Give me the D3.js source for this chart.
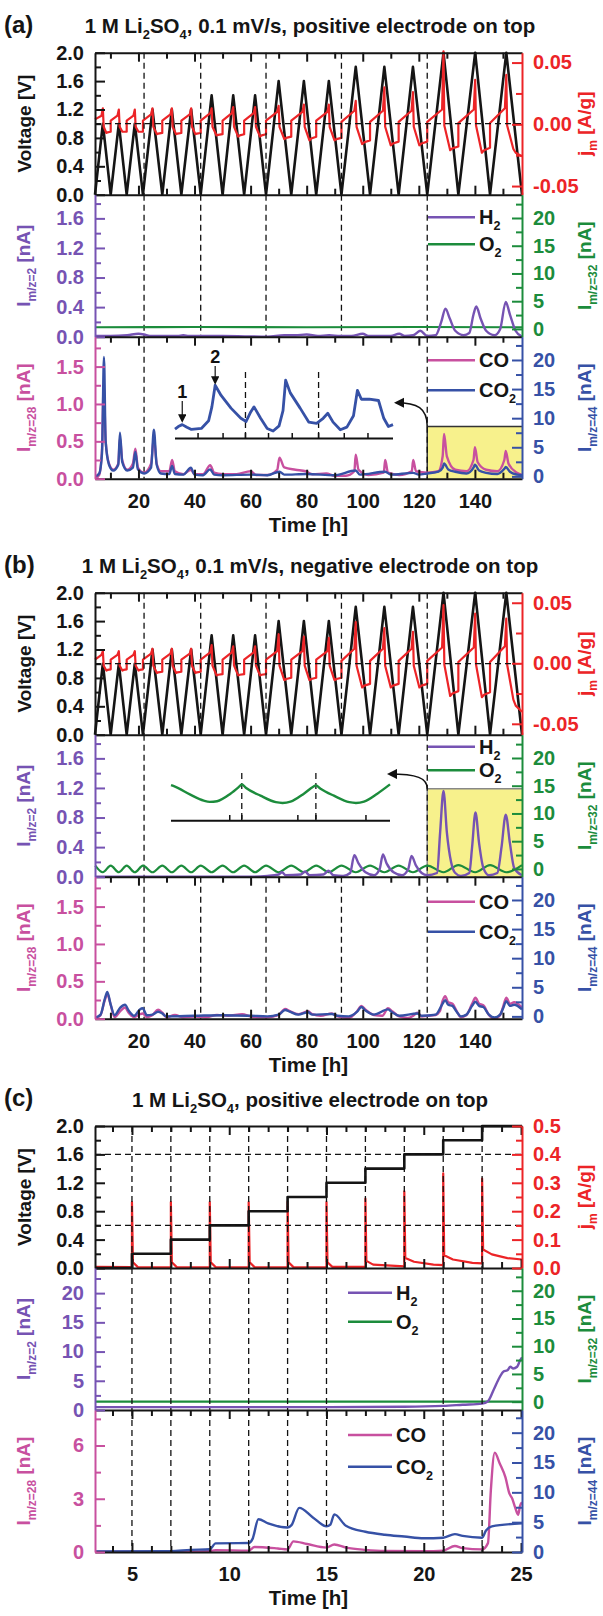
<!DOCTYPE html>
<html>
<head>
<meta charset="utf-8">
<script src="https://cdn.jsdelivr.net/npm/d3@7"></script>
<style>
  body { margin: 0; background: #fff; }
  svg { display: block; }
</style>
</head>
<body>
<svg id="chart" width="603" height="1616"></svg>
<script>
// ---------------- data ----------------
var timeMajorAB = [20, 40, 60, 80, 100, 120, 140];
var timeMinorAB = [10, 30, 50, 70, 90, 110, 130, 150];
var timeMajorC = [5, 10, 15, 20, 25];
var timeMinorC = [4, 6, 7, 8, 9, 11, 12, 13, 14, 16, 17, 18, 19, 21, 22, 23, 24];

var voltTicks = [0, 0.4, 0.8, 1.2, 1.6, 2.0];
var voltMinor = [0.2, 0.6, 1.0, 1.4, 1.8];
var jTicksAB = [-0.05, 0, 0.05];
var jMinorAB = [-0.025, 0.025];
var jTicksC = [0, 0.1, 0.2, 0.3, 0.4, 0.5];
var jMinorC = [0.05, 0.15, 0.25, 0.35, 0.45];
var h2TicksAB = [0, 0.4, 0.8, 1.2, 1.6];
var h2MinorAB = [0.2, 0.6, 1.0, 1.4, 1.8];
var nATicks = [0, 5, 10, 15, 20];
var nAMinor = [2.5, 7.5, 12.5, 17.5, 22.5];
var coTicksAB = [0, 0.5, 1.0, 1.5];
var coMinorAB = [0.25, 0.75, 1.25, 1.75];
var coTicksC = [0, 3, 6];
var coMinorC = [1.5, 4.5, 7.5];

var stepTimesAB = [22, 42.2, 65.5, 92.4, 123];
var stepTimesC = [5, 7, 9, 11, 13, 15, 17, 19, 21, 23];
var stepTimesCgas = [5, 7, 9, 11, 13, 15, 21, 23];

// CV: vertices of the triangular voltage (V=0 / turning points), 3 cycles per upper limit
var cvT = [4.5, 7.3, 10.1, 13.0, 15.8, 18.7, 21.6, 25.0, 28.5, 31.9, 35.3, 38.8, 42.2,
  46.1, 50.0, 53.8, 57.7, 61.6, 65.5, 70.0, 74.5, 79.0, 83.4, 87.9, 92.4,
  97.5, 102.6, 107.7, 112.8, 117.9, 123.0, 128.8, 134.1, 140.1, 145.4, 151.2, 156.8];
var cvV = [0, 1.0, 0, 1.0, 0, 1.0, 0, 1.2, 0, 1.2, 0, 1.2, 0,
  1.4, 0, 1.4, 0, 1.4, 0, 1.6, 0, 1.6, 0, 1.6, 0,
  1.8, 0, 1.8, 0, 1.8, 0, 2.0, 0, 2.0, 0, 2.0, 0];

// specific current per cycle (A/g): after the jump, before the spike, spike, after the drop, dip, end
var jUpA   = [0.004, 0.003, 0.003, 0.003, 0.003, 0.003, 0.003, 0.003, 0.003, 0.003, 0.003, 0.003, 0.002, 0.002, 0.002, 0.002, 0.001, 0.001];
var jPreA  = [0.007, 0.007, 0.007, 0.008, 0.008, 0.008, 0.009, 0.009, 0.009, 0.010, 0.010, 0.010, 0.011, 0.011, 0.011, 0.012, 0.012, 0.013];
var jPeakA = [0.013, 0.012, 0.012, 0.013, 0.013, 0.013, 0.013, 0.014, 0.014, 0.015, 0.016, 0.016, 0.019, 0.030, 0.026, 0.059, 0.036, 0.040];
var jPostA = [-0.002, -0.002, -0.002, -0.002, -0.002, -0.002, -0.002, -0.002, -0.002, -0.002, -0.002, -0.002, -0.002, -0.002, -0.002, -0.001, -0.001, -0.001];
var jDipA  = [-0.007, -0.006, -0.006, -0.008, -0.008, -0.008, -0.009, -0.010, -0.010, -0.012, -0.013, -0.013, -0.016, -0.017, -0.017, -0.021, -0.023, -0.020];
var jEndA  = [-0.006, -0.006, -0.006, -0.007, -0.007, -0.007, -0.008, -0.008, -0.008, -0.010, -0.010, -0.011, -0.013, -0.014, -0.014, -0.018, -0.019, -0.026];

var jUpB   = [0.003, 0.003, 0.003, 0.003, 0.003, 0.003, 0.003, 0.003, 0.003, 0.003, 0.003, 0.003, 0.002, 0.002, 0.002, 0.002, 0.001, 0.001];
var jPreB  = [0.007, 0.007, 0.007, 0.008, 0.008, 0.008, 0.009, 0.009, 0.009, 0.010, 0.010, 0.010, 0.012, 0.012, 0.012, 0.013, 0.013, 0.014];
var jPeakB = [0.010, 0.010, 0.010, 0.012, 0.012, 0.012, 0.015, 0.014, 0.014, 0.024, 0.022, 0.021, 0.034, 0.029, 0.026, 0.048, 0.041, 0.037];
var jPostB = [-0.002, -0.002, -0.002, -0.002, -0.002, -0.002, -0.002, -0.002, -0.002, -0.002, -0.002, -0.002, -0.002, -0.002, -0.002, -0.001, -0.001, -0.001];
var jDipB  = [-0.006, -0.006, -0.006, -0.008, -0.008, -0.008, -0.010, -0.010, -0.010, -0.014, -0.014, -0.014, -0.020, -0.020, -0.020, -0.027, -0.028, -0.030];
var jEndB  = [-0.005, -0.005, -0.005, -0.007, -0.007, -0.007, -0.009, -0.009, -0.009, -0.012, -0.012, -0.012, -0.017, -0.017, -0.017, -0.023, -0.024, -0.040];

// (a) gases, [time h, current]
var h2A = [[4.6, 0.01], [10, 0.01], [16, 0.02], [20, 0.04], [22, 0.03], [24, 0.01], [34, 0.01], [36, 0.02], [38, 0.01], [50, 0.01], [66, 0.0], [72, 0.02], [76, 0.02], [80, 0.03], [84, 0.01], [88, 0.02], [92, 0.01], [96, 0.01], [100, 0.04], [102, 0.01], [110, 0.01], [113, 0.04], [115, 0.01], [118, 0.02], [120.5, 0.08], [123, 0.01], [126, 0.02], [128, 0.2], [129.5, 0.38], [131, 0.25], [133, 0.08], [136, 0.02], [138, 0.05], [139.5, 0.3], [140.5, 0.41], [142, 0.25], [144, 0.08], [147, 0.02], [149, 0.1], [151, 0.47], [152.5, 0.3], [154.5, 0.08], [156.8, 0.0]];
var o2A = [[4.6, 0.3], [40, 0.35], [80, 0.3], [120, 0.35], [156.8, 0.3]];
var coA = [[4.6, 0.0], [6, 0.05], [7, 0.4], [7.6, 1.25], [8.3, 0.5], [9.5, 0.2], [11, 0.12], [12.8, 0.2], [13.4, 0.55], [14.2, 0.25], [16, 0.12], [18, 0.2], [18.9, 0.4], [19.8, 0.15], [22, 0.08], [24.5, 0.2], [25.5, 0.55], [26.5, 0.2], [28, 0.1], [31, 0.1], [32, 0.25], [33, 0.1], [36, 0.06], [38.7, 0.12], [40, 0.06], [43, 0.06], [45.6, 0.18], [47, 0.08], [50, 0.06], [55, 0.06], [60, 0.1], [62, 0.05], [66, 0.05], [69.5, 0.12], [70.3, 0.28], [72, 0.15], [76, 0.12], [79.7, 0.1], [82, 0.06], [87, 0.07], [90, 0.04], [94, 0.04], [97, 0.1], [97.5, 0.32], [98.5, 0.12], [102, 0.05], [107.5, 0.08], [108, 0.25], [109, 0.08], [113, 0.05], [117.5, 0.1], [118, 0.25], [119, 0.1], [123, 0.08], [127, 0.1], [128.5, 0.3], [129, 0.6], [130, 0.3], [133, 0.12], [137, 0.1], [139.5, 0.25], [140, 0.42], [141, 0.22], [144, 0.12], [148, 0.1], [150.5, 0.25], [151, 0.37], [152, 0.2], [155, 0.08], [156.8, 0.05]];
var co2A = [[4.6, 0], [6, 0.5], [7, 4], [7.7, 20.5], [8.3, 6], [9.5, 2], [11, 1], [12.8, 2], [13.4, 7.5], [14.2, 2.5], [16, 1], [18, 1.5], [18.9, 4.2], [19.8, 1.2], [22, 0.5], [24.5, 1.5], [25.5, 8], [26.5, 2], [28, 0.5], [31, 0.4], [32, 1.8], [33, 0.4], [36, 0.3], [38.7, 1.5], [40, 0.3], [43, 0.2], [45.6, 1.2], [47, 0.3], [50, 0.2], [60, 0.3], [66, 0.2], [70.3, 0.8], [72, 0.3], [80, 0.4], [90, 0.2], [97.5, 1.0], [99, 0.3], [108, 0.8], [110, 0.3], [118, 0.6], [120, 0.3], [123, 0.5], [127, 0.8], [128.5, 1.5], [129, 2.2], [130.5, 1.2], [133, 0.8], [137, 0.5], [139.5, 1.5], [140, 2.0], [141.5, 1.0], [144, 0.6], [148, 0.4], [150.5, 1.3], [151, 1.6], [152.5, 0.8], [155, 0.3], [156.8, 0.2]];
// (a) inset: CO2 of the last three cycles, magnified (arbitrary units)
var insetA = [[123.5, 0.75], [124, 0.95], [124.6, 1.1], [125.3, 0.9], [126, 0.72], [127.5, 0.8], [128.6, 1.4], [129.1, 2.5], [129.6, 4.2], [130.5, 3.4], [132, 2.4], [133.5, 1.6], [134.3, 1.35], [135, 2.1], [135.5, 2.5], [136.5, 1.6], [137.5, 0.8], [138.4, 0.6], [139.3, 1.0], [139.9, 2.2], [140.3, 4.6], [141, 3.6], [142.5, 2.4], [143.8, 1.3], [145, 1.2], [146, 1.6], [146.7, 2.0], [147.5, 1.3], [148.6, 0.7], [149.6, 0.9], [150.6, 1.8], [151.2, 3.8], [151.8, 3.1], [153, 3.1], [154.4, 3.0], [155.2, 1.6], [155.9, 0.95], [156.6, 1.1]];
var insetTicksA = [127, 130.8, 134.2, 137.7, 141.3, 145.3, 149.2, 152.8];
var insetDashA = [134.2, 145.3];

// (b) gases
var h2B = [[4.6, 0.0], [60, 0.0], [66, 0.01], [70, 0.03], [71.2, 0.06], [72.5, 0.02], [78, 0.03], [79.4, 0.07], [81, 0.02], [86, 0.03], [87.8, 0.08], [89.5, 0.02], [93, 0.01], [95.5, 0.05], [97, 0.29], [98.5, 0.18], [101, 0.06], [104, 0.02], [106, 0.1], [107.2, 0.3], [108.5, 0.18], [111, 0.06], [114, 0.02], [116.2, 0.1], [117.4, 0.28], [119, 0.15], [121, 0.05], [123, 0.02], [126.5, 0.05], [127.6, 0.6], [128.8, 1.16], [130, 0.6], [131.5, 0.2], [133, 0.05], [135, 0.01], [138, 0.05], [139, 0.4], [140.2, 0.87], [141.5, 0.45], [143, 0.12], [145, 0.02], [148, 0.05], [149.5, 0.4], [151, 0.84], [152.5, 0.45], [154, 0.12], [156.8, 0.02]];
var o2B = [[4.6, 0.6], [7.3, -0.6], [10.1, 0.6], [13.0, -0.6], [15.8, 0.6], [18.7, -0.6], [21.6, 0.6], [25.0, -0.6], [28.5, 0.6], [31.9, -0.6], [35.3, 0.6], [38.8, -0.6], [42.2, 0.6], [46.1, -0.6], [50, 0.6], [53.8, -0.6], [57.7, 0.6], [61.6, -0.6], [65.5, 0.6], [70, -0.6], [74.5, 0.6], [79, -0.6], [83.4, 0.6], [87.9, -0.6], [92.4, 0.6], [97.5, -0.6], [102.6, 0.6], [107.7, -0.6], [112.8, 0.6], [117.9, -0.6], [123, 0.6], [128.8, -0.6], [134.1, 0.7], [140.1, -0.6], [145.4, 0.7], [151.2, -0.6], [156.8, 0.7]];
var coB = [[4.6, 0.0], [6.5, 0.05], [8, 0.25], [8.9, 0.33], [10, 0.2], [11.5, 0.02], [13.5, 0.1], [15.2, 0.15], [16.5, 0.08], [18.5, 0.02], [20.5, 0.06], [21.5, 0.07], [23, 0.02], [25, 0.05], [27, 0.12], [28.5, 0.08], [30, 0.02], [33, 0.05], [36, 0.02], [40, 0.03], [44, 0.02], [48, 0.05], [52, 0.04], [57, 0.06], [60, 0.03], [63, 0.02], [66, 0.02], [70, 0.05], [72.3, 0.13], [74, 0.1], [77, 0.06], [80.5, 0.1], [82, 0.06], [85, 0.04], [89, 0.07], [91, 0.03], [95, 0.01], [98, 0.1], [99.5, 0.17], [101, 0.12], [104, 0.05], [107, 0.04], [109, 0.14], [110.5, 0.1], [113, 0.03], [116, 0.01], [118, 0.04], [119.5, 0.08], [121, 0.03], [123, 0.04], [126, 0.05], [127.5, 0.1], [128.5, 0.24], [129.4, 0.3], [130.5, 0.22], [132, 0.2], [133.5, 0.1], [135, 0.02], [137, 0.05], [139, 0.2], [140.2, 0.28], [141.5, 0.2], [143, 0.18], [145, 0.05], [147, 0.0], [149, 0.05], [150, 0.15], [151.2, 0.28], [152.5, 0.2], [154, 0.22], [156.8, 0.15]];
var co2B = [[4.6, -0.2], [6.5, 0.3], [8, 3.0], [8.9, 4.2], [10, 2.2], [11.5, 0.2], [13.5, 1.5], [15.2, 2.0], [16.5, 1.0], [18.5, 0.1], [20.5, 1.2], [21.5, 1.4], [23, 0.2], [25, 0.3], [27, 0.8], [28.5, 0.5], [30, 0.0], [40, 0.1], [50, 0.2], [60, 0.1], [66, 0.0], [70, 0.3], [72.3, 1.1], [74, 0.8], [77, 0.3], [80.5, 0.7], [82, 0.3], [89, 0.4], [91, 0.1], [95, 0.0], [98, 0.8], [99.5, 1.6], [101, 1.0], [104, 0.3], [109, 1.2], [110.5, 0.7], [113, 0.1], [119.5, 0.5], [121, 0.1], [126, 0.3], [128.5, 2.2], [129.4, 2.8], [130.5, 2.0], [132, 1.8], [133.5, 0.8], [135, 0.0], [137, 0.3], [139, 1.8], [140.2, 2.5], [141.5, 1.8], [143, 1.6], [145, 0.3], [147, -0.2], [149, 0.3], [150, 1.3], [151.2, 2.6], [152.5, 1.8], [154, 2.0], [156.8, 1.2]];
// (b) inset: O2 of the last three cycles, magnified (arbitrary units)
var insetB = [[123.6, 3.55], [124.2, 3.4], [126.5, 2.6], [128.5, 2.0], [129.4, 1.88], [130.5, 1.95], [132.5, 2.7], [133.8, 3.4], [134.2, 3.63], [134.8, 3.3], [137, 2.5], [139.3, 1.85], [140.3, 1.77], [141.5, 1.9], [143.5, 2.7], [144.9, 3.4], [145.3, 3.53], [146, 3.2], [148, 2.5], [150.3, 1.85], [151.3, 1.77], [152.5, 1.9], [154.5, 2.7], [156.4, 3.63]];
var insetTicksB = [132.4, 134.2, 142.6, 145.3, 152.8];
var insetDashB = [134.2, 145.3];

// (c) potentiostatic hold steps
var holdT = [3.1, 5, 7, 9, 11, 13, 15, 17, 19, 21, 23, 25.05];
var holdV = [0, 0.2, 0.4, 0.6, 0.8, 1.0, 1.2, 1.4, 1.6, 1.8, 2.0, 2.0];
var holdGuides = [1.6, 0.6];
var jC = [[3.1, 0.004], [5, 0.003], [5, 0.232], [5.05, 0.02], [5.3, 0.003], [7, 0.002], [7, 0.232], [7.05, 0.02], [7.3, 0.003], [9, 0.002], [9, 0.232], [9.05, 0.02], [9.3, 0.003], [11, 0.002], [11, 0.232], [11.05, 0.02], [11.3, 0.003], [13, 0.002], [13, 0.232], [13.05, 0.02], [13.3, 0.003], [15, 0.002], [15, 0.232], [15.05, 0.02], [15.3, 0.004], [17, 0.004], [17, 0.244], [17.05, 0.025], [17.4, 0.012], [19, 0.006], [19, 0.27], [19.05, 0.035], [19.5, 0.022], [20.5, 0.012], [21, 0.01], [21, 0.333], [21.05, 0.045], [21.5, 0.03], [22.5, 0.018], [23, 0.016], [23, 0.315], [23.05, 0.065], [23.5, 0.048], [24.3, 0.035], [25.05, 0.03]];
var h2C = [[3.1, 0.5], [10, 0.5], [15, 0.5], [19, 0.55], [21, 0.7], [22, 0.9], [23, 1.1], [23.3, 1.5], [23.6, 3.5], [23.9, 5.6], [24.1, 6.6], [24.3, 6.8], [24.45, 7.4], [24.6, 7.1], [24.8, 7.4], [24.95, 8.5], [25.05, 9]];
var o2C = [[3.1, 0], [25.05, 0]];
var coC = [[3.1, 0.02], [7, 0.02], [9, 0.05], [9.3, 0.1], [11, 0.08], [11.3, 0.28], [12.5, 0.2], [13, 0.15], [13.3, 0.6], [14, 0.45], [15, 0.25], [15.4, 0.42], [16, 0.25], [17, 0.12], [18, 0.06], [20, 0.05], [21, 0.08], [21.6, 0.34], [22, 0.22], [23, 0.15], [23.3, 0.5], [23.45, 3.5], [23.65, 5.6], [23.9, 5.0], [24.2, 4.2], [24.4, 3.3], [24.55, 3.0], [24.7, 2.5], [24.85, 2.1], [24.95, 2.6], [25.05, 2.8]];
var co2C = [[3.1, 0.1], [7, 0.15], [8, 0.35], [9, 0.45], [9.3, 1.45], [11, 1.5], [11.2, 2.2], [11.5, 5.5], [12, 4.8], [13, 4.1], [13.2, 4.5], [13.6, 7.4], [14.3, 5.8], [15, 4.3], [15.2, 4.6], [15.4, 6.3], [16, 4.4], [17, 3.4], [18, 2.9], [19, 2.6], [20, 2.3], [21, 2.4], [21.6, 3.0], [22, 2.7], [23, 2.4], [23.2, 3.6], [23.5, 4.3], [25.05, 4.8]];

// ---------------- drawing ----------------
var FONT = "'Liberation Sans', Arial, Helvetica, sans-serif";
var COL = { black: "#151515", red: "#ec2427", purple: "#7653b3", green: "#1c8c3c",
  pink: "#c8509f", blue: "#3651a6", yellow: "#f7f18c" };
var FS = 20;      // tick labels, legends
var FT = 20.5;    // headings
var FA = 19;      // axis titles

var svg = d3.select("#chart").attr("font-family", FONT).attr("font-weight", "bold");
var X0 = 95, X1 = 522;
var xAB = d3.scaleLinear().domain([4.5, 156.8]).range([X0, X1]);
var xC = d3.scaleLinear().domain([3.1, 25.05]).range([X0, X1]);

function yScale(dom, top, bot) { return d3.scaleLinear().domain(dom).range([bot, top]); }

function zip(ts, vs) { return ts.map(function (t, i) { return [t, vs[i]]; }); }

function drawLine(x, y, pts, color, w, curve) {
  svg.append("path").datum(pts)
    .attr("fill", "none").attr("stroke", color).attr("stroke-width", w)
    .attr("stroke-linejoin", "round")
    .attr("d", d3.line()
      .x(function (d) { return x(d[0]); })
      .y(function (d) { return y(d[1]); })
      .curve(curve || d3.curveLinear));
}

// current trace of the CV cycles built from the per-cycle readings
function cyclePoints(up, pre, peak, post, dip, end) {
  var pts = [];
  for (var i = 0; i < up.length; i++) {
    var t0 = cvT[2 * i], tp = cvT[2 * i + 1], t1 = cvT[2 * i + 2];
    pts.push([t0, up[i]], [tp - 0.5, pre[i]], [tp, peak[i]], [tp + 0.3, post[i]],
      [tp + 0.45 * (t1 - tp), dip[i]], [tp + 0.6 * (t1 - tp), (dip[i] + end[i]) / 2], [t1, end[i]]);
  }
  return pts;
}

function dashV(x, times, top, bot) {
  svg.append("g").selectAll("line").data(times).join("line")
    .attr("x1", function (d) { return x(d); }).attr("x2", function (d) { return x(d); })
    .attr("y1", top).attr("y2", bot)
    .attr("stroke", "#111").attr("stroke-width", 1.3).attr("stroke-dasharray", "6,4");
}
function dashH(y, vals) {
  svg.append("g").selectAll("line").data(vals).join("line")
    .attr("x1", X0).attr("x2", X1)
    .attr("y1", function (d) { return y(d); }).attr("y2", function (d) { return y(d); })
    .attr("stroke", "#111").attr("stroke-width", 1.3).attr("stroke-dasharray", "6,4");
}

function styleAxis(g, color) {
  g.selectAll("line").attr("stroke", color).attr("stroke-width", 2);
  g.selectAll(".domain").attr("stroke", color).attr("stroke-width", 2);
  g.selectAll("text").attr("fill", color).attr("font-size", FS)
    .attr("font-family", FONT).attr("font-weight", "bold");
}

function yAxis(scale, side, major, minor, color, fmt) {
  var mk = side === "left" ? d3.axisLeft : d3.axisRight;
  var xPos = side === "left" ? X0 : X1;
  var gMin = svg.append("g").attr("transform", "translate(" + xPos + ",0)")
    .call(mk(scale).tickValues(minor).tickSizeInner(-6).tickSizeOuter(0).tickFormat(""));
  gMin.select(".domain").remove();
  styleAxis(gMin, color);
  var g = svg.append("g").attr("transform", "translate(" + xPos + ",0)")
    .call(mk(scale).tickValues(major).tickSizeInner(-10).tickSizeOuter(0).tickPadding(11)
      .tickFormat(function (d) { return fmt(d).replace("\u2212", "-"); }));
  styleAxis(g, color);
}

function xAxis(x, yPos, dir, major, minor, withLabels) {
  var mk = dir === "down" ? d3.axisTop : d3.axisBottom;
  var gMin = svg.append("g").attr("transform", "translate(0," + yPos + ")")
    .call(mk(x).tickValues(minor).tickSizeInner(-6).tickSizeOuter(0).tickFormat(""));
  gMin.select(".domain").remove();
  styleAxis(gMin, COL.black);
  var g = svg.append("g").attr("transform", "translate(0," + yPos + ")")
    .call(mk(x).tickValues(major).tickSizeInner(-9).tickSizeOuter(0).tickPadding(15)
      .tickFormat(withLabels ? d3.format("d") : ""));
  styleAxis(g, COL.black);
}

// text with subscripts; parts = [[text, isSub], ...]
function richText(x, y, parts, color, size, rotate, anchor) {
  var t = svg.append("text")
    .attr("transform", "translate(" + x + "," + y + ")" + (rotate ? " rotate(-90)" : ""))
    .attr("text-anchor", anchor || "middle").attr("fill", color).attr("font-size", size);
  var shifted = false;
  parts.forEach(function (p) {
    var s = t.append("tspan").text(p[0]);
    if (p[1] && !shifted) { s.attr("font-size", size * 0.63).attr("dy", size * 0.3); shifted = true; }
    else if (!p[1] && shifted) { s.attr("dy", -size * 0.3); shifted = false; }
    else if (p[1]) { s.attr("font-size", size * 0.63); }
  });
  return t;
}

function legendItem(x1, x2, y, color, name, sub) {
  svg.append("line").attr("x1", x1).attr("x2", x2).attr("y1", y).attr("y2", y)
    .attr("stroke", color).attr("stroke-width", 2.5);
  var parts = [[name, false]];
  if (sub) parts.push([sub, true]);
  richText(x2 + 4, y + 7, parts, COL.black, FS, false, "start");
}

function arrowCurve(d) {
  svg.append("path").attr("d", d).attr("fill", "none").attr("stroke", "#111")
    .attr("stroke-width", 1.5).attr("marker-end", "url(#head)");
}

svg.append("defs").append("marker").attr("id", "head")
  .attr("viewBox", "0 0 10 10").attr("refX", 8).attr("refY", 5)
  .attr("markerWidth", 7).attr("markerHeight", 7).attr("orient", "auto")
  .append("path").attr("d", "M0,0 L10,5 L0,10 Z").attr("fill", "#111");

function smallArrow(x, y1, y2) {
  svg.append("line").attr("x1", x).attr("x2", x).attr("y1", y1).attr("y2", y2)
    .attr("stroke", "#111").attr("stroke-width", 1.2).attr("marker-end", "url(#head)");
}

// ---------- one CV block: (a) and (b) ----------
function cvBlock(o) {
  var T = o.top, P = 142;
  var vTop = T, vBot = T + P, mBot = T + 2 * P, bBot = T + 3 * P;
  var yV = yScale([0, 2.0], vTop, vBot);
  var yJ = yScale(o.jDom, vTop, vBot);
  var yH2 = yScale([0, 1.92], vBot, mBot);
  var yO2 = yScale([-1.4, 24.2], vBot, mBot);
  var yCO = yScale([0, 1.9], mBot, bBot);
  var yCO2 = yScale([-0.4, 24], mBot, bBot);

  // headings
  svg.append("text").attr("x", 4).attr("y", T - 20).attr("font-size", 24).attr("fill", COL.black).text(o.tag);
  richText(310, T - 19.5, [["1 M Li", 0], ["2", 1], ["SO", 0], ["4", 1], [", 0.1 mV/s, " + o.title, 0]], COL.black, FT);

  // yellow highlight box
  var boxTop = o.boxIn === "bottom" ? yCO(o.boxVal) : yH2(o.boxVal);
  var boxBot = o.boxIn === "bottom" ? bBot : mBot;
  svg.append("rect").attr("x", xAB(123)).attr("y", boxTop).attr("width", X1 - xAB(123))
    .attr("height", boxBot - boxTop).attr("fill", COL.yellow);
  svg.append("path").attr("d", "M" + xAB(123) + "," + boxBot + "V" + boxTop + "H" + X1)
    .attr("fill", "none").attr("stroke", o.boxIn === "bottom" ? "#333" : "#888").attr("stroke-width", 1.5);

  // voltage panel
  drawLine(xAB, yV, zip(cvT, cvV), COL.black, 2.6);
  drawLine(xAB, yJ, o.current, COL.red, 2.2);
  dashH(yV, [1.0]);
  dashV(xAB, stepTimesAB, vTop, vBot);

  // H2 / O2 panel
  dashV(xAB, o.midDash, vBot, mBot);
  drawLine(xAB, yO2, o.o2, COL.green, 2.2, d3.curveMonotoneX);
  drawLine(xAB, yH2, o.h2, COL.purple, 2.4, d3.curveMonotoneX);

  // CO / CO2 panel
  dashV(xAB, o.botDash, mBot, bBot);
  drawLine(xAB, yCO, o.co, COL.pink, 2.4, d3.curveMonotoneX);
  drawLine(xAB, yCO2, o.co2, COL.blue, 2.4, d3.curveMonotoneX);

  // axes
  xAxis(xAB, vTop, "down", timeMajorAB, timeMinorAB, false);
  xAxis(xAB, vBot, "up", timeMajorAB, timeMinorAB, false);
  xAxis(xAB, mBot, "down", timeMajorAB, timeMinorAB, false);
  xAxis(xAB, bBot, "up", timeMajorAB, timeMinorAB, true);
  yAxis(yV, "left", voltTicks, voltMinor, COL.black, d3.format(".1f"));
  yAxis(yJ, "right", jTicksAB, jMinorAB, COL.red, d3.format(".2f"));
  yAxis(yH2, "left", h2TicksAB, h2MinorAB, COL.purple, d3.format(".1f"));
  yAxis(yO2, "right", nATicks, nAMinor, COL.green, d3.format("d"));
  yAxis(yCO, "left", coTicksAB, coMinorAB, COL.pink, d3.format(".1f"));
  yAxis(yCO2, "right", nATicks, nAMinor, COL.blue, d3.format("d"));

  // axis titles
  richText(31, (vTop + vBot) / 2, [["Voltage [V]", 0]], COL.black, FA, true);
  richText(591, (vTop + vBot) / 2, [["j", 0], ["m", 1], [" [A/g]", 0]], COL.red, FA, true);
  richText(30, (vBot + mBot) / 2, [["I", 0], ["m/z=2", 1], [" [nA]", 0]], COL.purple, FA, true);
  richText(591, (vBot + mBot) / 2, [["I", 0], ["m/z=32", 1], [" [nA]", 0]], COL.green, FA, true);
  richText(30, (mBot + bBot) / 2, [["I", 0], ["m/z=28", 1], [" [nA]", 0]], COL.pink, FA, true);
  richText(591, (mBot + bBot) / 2, [["I", 0], ["m/z=44", 1], [" [nA]", 0]], COL.blue, FA, true);
  richText((X0 + X1) / 2, bBot + 53, [["Time [h]", 0]], COL.black, FT);

  // legends
  legendItem(428, 475, T + o.leg[0], COL.purple, "H", "2");
  legendItem(428, 475, T + o.leg[1], COL.green, "O", "2");
  legendItem(428, 475, T + o.leg[2], COL.pink, "CO");
  legendItem(428, 475, T + o.leg[3], COL.blue, "CO", "2");

  return { yV: yV, vBot: vBot, mBot: mBot, bBot: bBot, yCO: yCO, yH2: yH2, boxTop: boxTop };
}

// panel (a)
var A = cvBlock({
  top: 52.7, tag: "(a)", title: "positive electrode on top", jDom: [-0.057, 0.058],
  current: cyclePoints(jUpA, jPreA, jPeakA, jPostA, jDipA, jEndA),
  h2: h2A, o2: o2A, co: coA, co2: co2A,
  midDash: stepTimesAB, botDash: [22, 123],
  boxIn: "bottom", boxVal: 0.7, leg: [164.5, 191.5, 307.5, 337.5]
});
// inset of (a)
(function () {
  var ix = d3.scaleLinear().domain([123.5, 156.6]).range([175, 393]);
  var iy = d3.scaleLinear().domain([0, 5]).range([438.6, 375.1]);
  dashV(ix, insetDashA, 372, 438.6);
  drawLine(ix, iy, insetA, COL.blue, 2.8);
  svg.append("line").attr("x1", 175).attr("x2", 393).attr("y1", 438.6).attr("y2", 438.6)
    .attr("stroke", "#111").attr("stroke-width", 2);
  svg.append("g").selectAll("line").data(insetTicksA).join("line")
    .attr("x1", function (d) { return ix(d); }).attr("x2", function (d) { return ix(d); })
    .attr("y1", 438.6).attr("y2", 433).attr("stroke", "#111").attr("stroke-width", 1.5);
  svg.append("text").attr("x", ix(124.6)).attr("y", 398).attr("text-anchor", "middle")
    .attr("font-size", 18).attr("fill", "#111").text("1");
  smallArrow(ix(124.6), 401, 421);
  svg.append("text").attr("x", ix(129.6)).attr("y", 363).attr("text-anchor", "middle")
    .attr("font-size", 18).attr("fill", "#111").text("2");
  smallArrow(ix(129.6), 366, 383);
  arrowCurve("M" + xAB(123) + "," + A.boxTop + " C" + xAB(123) + ",408 " + (xAB(123) - 10) + ",402.7 396,402.7");
})();

// panel (b)
var B = cvBlock({
  top: 592.7, tag: "(b)", title: "negative electrode on top", jDom: [-0.059, 0.0583],
  current: cyclePoints(jUpB, jPreB, jPeakB, jPostB, jDipB, jEndB),
  h2: h2B, o2: o2B, co: coB, co2: co2B,
  midDash: [22, 123], botDash: stepTimesAB,
  boxIn: "mid", boxVal: 1.19, leg: [154, 177.5, 309, 339]
});
// inset of (b)
(function () {
  var ix = d3.scaleLinear().domain([123.6, 156.4]).range([171, 390]);
  var iy = d3.scaleLinear().domain([0, 5]).range([820.7, 770.7]);
  dashV(ix, insetDashB, 773, 820.7);
  drawLine(ix, iy, insetB, COL.green, 2.4, d3.curveMonotoneX);
  svg.append("line").attr("x1", 171).attr("x2", 390).attr("y1", 820.7).attr("y2", 820.7)
    .attr("stroke", "#111").attr("stroke-width", 2);
  svg.append("g").selectAll("line").data(insetTicksB).join("line")
    .attr("x1", function (d) { return ix(d); }).attr("x2", function (d) { return ix(d); })
    .attr("y1", 820.7).attr("y2", 815).attr("stroke", "#111").attr("stroke-width", 1.5);
  arrowCurve("M" + xAB(123) + "," + B.boxTop + " C" + xAB(123) + ",778 " + (xAB(123) - 10) + ",774 389,774");
})();

// ---------- panel (c) ----------
(function () {
  var T = 1126, P = 142;
  var vTop = T, vBot = T + P, mBot = T + 2 * P, bBot = T + 3 * P;
  var yV = yScale([0, 2.0], vTop, vBot);
  var yJ = yScale([0, 0.5], vTop, vBot);
  var yH2 = yScale([0, 24.3], vBot, mBot);
  var yO2 = yScale([-1.5, 24.1], vBot, mBot);
  var yCO = yScale([0, 8], mBot, bBot);
  var yCO2 = yScale([0, 23.8], mBot, bBot);

  svg.append("text").attr("x", 4).attr("y", T - 20).attr("font-size", 24).attr("fill", COL.black).text("(c)");
  richText(310, T - 19.5, [["1 M Li", 0], ["2", 1], ["SO", 0], ["4", 1], [", positive electrode on top", 0]], COL.black, FT);

  drawLine(xC, yJ, jC, COL.red, 2.2);
  drawLine(xC, yV, zip(holdT, holdV), COL.black, 2.6, d3.curveStepAfter);
  dashH(yV, holdGuides);
  dashV(xC, stepTimesC, vTop, vBot);

  drawLine(xC, yO2, o2C, COL.green, 2.2);
  drawLine(xC, yH2, h2C, COL.purple, 2.4, d3.curveMonotoneX);
  dashV(xC, stepTimesCgas, vBot, mBot);

  drawLine(xC, yCO, coC, COL.pink, 2.4, d3.curveMonotoneX);
  drawLine(xC, yCO2, co2C, COL.blue, 2.4, d3.curveMonotoneX);
  dashV(xC, stepTimesCgas, mBot, bBot);

  xAxis(xC, vTop, "down", timeMajorC, timeMinorC, false);
  xAxis(xC, vBot, "up", timeMajorC, timeMinorC, false);
  xAxis(xC, mBot, "down", timeMajorC, timeMinorC, false);
  xAxis(xC, bBot, "up", timeMajorC, timeMinorC, true);
  yAxis(yV, "left", voltTicks, voltMinor, COL.black, d3.format(".1f"));
  yAxis(yJ, "right", jTicksC, jMinorC, COL.red, d3.format(".1f"));
  yAxis(yH2, "left", nATicks, nAMinor, COL.purple, d3.format("d"));
  yAxis(yO2, "right", nATicks, nAMinor, COL.green, d3.format("d"));
  yAxis(yCO, "left", coTicksC, coMinorC, COL.pink, d3.format("d"));
  yAxis(yCO2, "right", nATicks, nAMinor, COL.blue, d3.format("d"));

  richText(31, (vTop + vBot) / 2, [["Voltage [V]", 0]], COL.black, FA, true);
  richText(591, (vTop + vBot) / 2, [["j", 0], ["m", 1], [" [A/g]", 0]], COL.red, FA, true);
  richText(30, (vBot + mBot) / 2, [["I", 0], ["m/z=2", 1], [" [nA]", 0]], COL.purple, FA, true);
  richText(591, (vBot + mBot) / 2, [["I", 0], ["m/z=32", 1], [" [nA]", 0]], COL.green, FA, true);
  richText(30, (mBot + bBot) / 2, [["I", 0], ["m/z=28", 1], [" [nA]", 0]], COL.pink, FA, true);
  richText(591, (mBot + bBot) / 2, [["I", 0], ["m/z=44", 1], [" [nA]", 0]], COL.blue, FA, true);
  richText((X0 + X1) / 2, bBot + 53, [["Time [h]", 0]], COL.black, FT);

  legendItem(348, 392, 1292.7, COL.purple, "H", "2");
  legendItem(348, 392, 1321.7, COL.green, "O", "2");
  legendItem(348, 392, 1435, COL.pink, "CO");
  legendItem(348, 392, 1466.7, COL.blue, "CO", "2");
})();
</script>
</body>
</html>
